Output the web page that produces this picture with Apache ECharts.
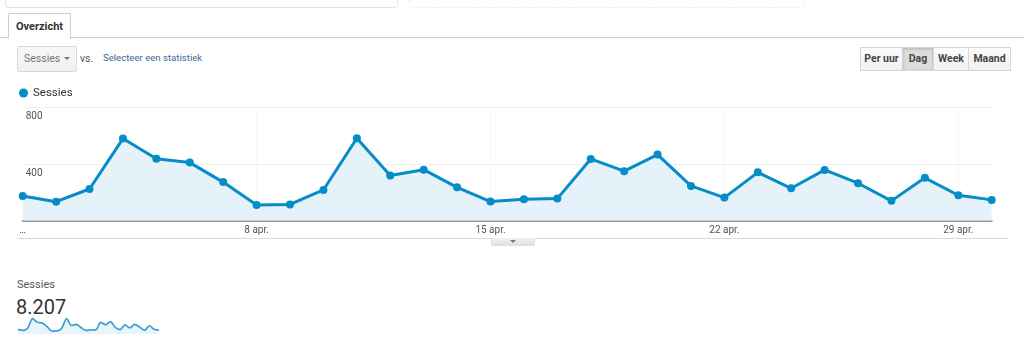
<!DOCTYPE html>
<html>
<head>
<meta charset="utf-8">
<script src="https://cdn.jsdelivr.net/npm/echarts@6/dist/echarts.min.js"></script>
<style>
  html, body { margin:0; padding:0; background:#fff; width:1024px; height:347px; overflow:hidden; font-family: Roboto, Arial, sans-serif; }
  .abs { position:absolute; }
  #topbox1 { left:5px; top:-6px; width:391px; height:12px; border:1px solid #e3e3e3; border-radius:3px; }
  #topbox2 { left:409px; top:-6px; width:393px; height:12px; border:1px dashed #eee; border-radius:3px; }
  #tabline { left:0; top:37px; width:1024px; height:1px; background:#cfcfcf; }
  #tab { left:8px; top:13px; width:61px; height:25px; border:1px solid #cfcfcf; border-bottom:none; background:#fff; border-radius:2px 2px 0 0;
         font-size:11px; font-weight:bold; color:#333; line-height:25px; text-align:center; }
  #dropdown { left:17px; top:46px; width:58px; height:24px; border:1px solid #d9d9d9; border-radius:2px; background:linear-gradient(#f8f8f8,#f0f0f0);
              font-size:10.5px; color:#777; line-height:24px; }
  #dropdown span.t { position:absolute; left:6px; }
  #dropdown span.a { position:absolute; left:46px; top:10px; width:0; height:0; border-left:3px solid transparent; border-right:3px solid transparent; border-top:3px solid #777; }
  #vs { left:80px; top:52px; font-size:10.5px; color:#555; }
  #sel { left:103px; top:52px; font-size:9.6px; color:#3a6a98; }
  #btns { left:861px; top:47px; height:24px; display:flex; }
  #btns div { height:22px; border:1px solid #d6d6d6; margin-left:-1px; background:linear-gradient(#fbfbfb,#f1f1f1); font-size:10.5px; font-weight:bold; color:#444; line-height:22px; text-align:center; }
  #btns div.on { background:#dcdcdc; box-shadow: inset 0 1px 3px rgba(0,0,0,0.2); }
  #chart { left:0; top:80px; width:1024px; height:170px; }
  #underline { left:17px; top:238px; width:991px; height:1px; background:#dadada; }
  #handle { left:491px; top:238px; width:42px; height:7px; background:linear-gradient(#f2f2f2,#e2e2e2); border:1px solid #e0e0e0; border-top:none; border-radius:0 0 2px 2px; }
  #handle span { position:absolute; left:18px; top:2px; width:0; height:0; border-left:3px solid transparent; border-right:3px solid transparent; border-top:3px solid #777; }
  #sumlabel { left:17px; top:278px; font-size:11px; color:#555; }
  #sumval { left:16px; top:295px; font-size:20px; color:#333; }
  #spark { left:17px; top:317px; width:143px; height:20px; }
</style>
</head>
<body>
<div class="abs" id="topbox1"></div>
<div class="abs" id="topbox2"></div>
<div class="abs" id="tabline"></div>
<div class="abs" id="tab">Overzicht</div>
<div class="abs" id="dropdown"><span class="t">Sessies</span><span class="a"></span></div>
<div class="abs" id="vs">vs.</div>
<div class="abs" id="sel">Selecteer een statistiek</div>
<div class="abs" id="btns"><div style="width:41px">Per uur</div><div class="on" style="width:30px">Dag</div><div style="width:34px">Week</div><div style="width:41px">Maand</div></div>
<div class="abs" id="chart"></div>
<div class="abs" id="underline"></div>
<div class="abs" id="handle"><span></span></div>
<div class="abs" id="sumlabel">Sessies</div>
<div class="abs" id="sumval">8.207</div>
<div class="abs" id="spark"></div>
<script>
const seriesName = 'Sessies';
const categories = ['1 apr.','2 apr.','3 apr.','4 apr.','5 apr.','6 apr.','7 apr.','8 apr.','9 apr.','10 apr.',
  '11 apr.','12 apr.','13 apr.','14 apr.','15 apr.','16 apr.','17 apr.','18 apr.','19 apr.','20 apr.',
  '21 apr.','22 apr.','23 apr.','24 apr.','25 apr.','26 apr.','27 apr.','28 apr.','29 apr.','30 apr.'];
const sessions = [173,133,223,580,437,410,272,110,114,216,
  582,318,360,235,134,150,155,436,349,467,
  245,162,341,228,358,264,139,302,179,146];
const yTicks = [0, 400, 800];

const blue = '#058dc7';
const chart = echarts.init(document.getElementById('chart'), null, {renderer:'canvas'});
chart.setOption({
  animation: false,
  legend: {
    left: 14, top: 2, itemWidth: 9, itemHeight: 9, itemGap: 6,
    icon: 'circle',
    textStyle: { fontSize: 11.5, color: '#333', fontFamily: 'Roboto' },
    data: [seriesName]
  },
  grid: { left: 22.7, right: 32.3, top: 27.5, bottom: 29.5 },
  xAxis: {
    type: 'category', data: categories, boundaryGap: false,
    axisLine: { lineStyle: { color: '#9b9b9b', width: 2 } },
    axisTick: { show: false },
    axisLabel: {
      interval: 0, margin: 5, fontSize: 10, color: '#555', fontFamily: 'Roboto',
      formatter: function (v, i) { return i === 0 ? '…' : (i % 7 === 0 ? v : ''); }
    },
    splitLine: { show: true, interval: function (i) { return i % 7 === 0 && i > 0; }, lineStyle: { color: '#f7f7f7', width: 1 } }
  },
  yAxis: {
    type: 'value', min: yTicks[0], max: yTicks[yTicks.length-1], interval: yTicks[1]-yTicks[0],
    axisLine: { show: false }, axisTick: { show: false },
    axisLabel: {
      inside: true, margin: 3, verticalAlign: 'top', padding: [4,0,0,0],
      fontSize: 10, color: '#555', fontFamily: 'Roboto',
      formatter: function (v) { return v === 0 ? '' : String(v); }
    },
    splitLine: { lineStyle: { color: '#eeeeee', width: 1 } }
  },
  series: [{
    name: seriesName, type: 'line', data: sessions,
    symbol: 'circle', symbolSize: 8, showSymbol: true,
    lineStyle: { color: blue, width: 3 },
    itemStyle: { color: blue },
    areaStyle: { color: '#e6f2f9', opacity: 1 },
    z: 3
  }]
});

const spark = echarts.init(document.getElementById('spark'), null, {renderer:'canvas'});
spark.setOption({
  animation: false,
  grid: { left: 1, right: 1, top: 1, bottom: 3 },
  xAxis: { type: 'category', data: categories, boundaryGap: false, show: false },
  yAxis: { type: 'value', min: 0, max: 600, show: false },
  series: [{
    type: 'line', data: sessions, symbol: 'none', smooth: 0.3,
    lineStyle: { color: '#3aa0d0', width: 1.7 },
    areaStyle: { color: '#e8f3fa', opacity: 1 }
  }]
});
</script>
</body>
</html>
